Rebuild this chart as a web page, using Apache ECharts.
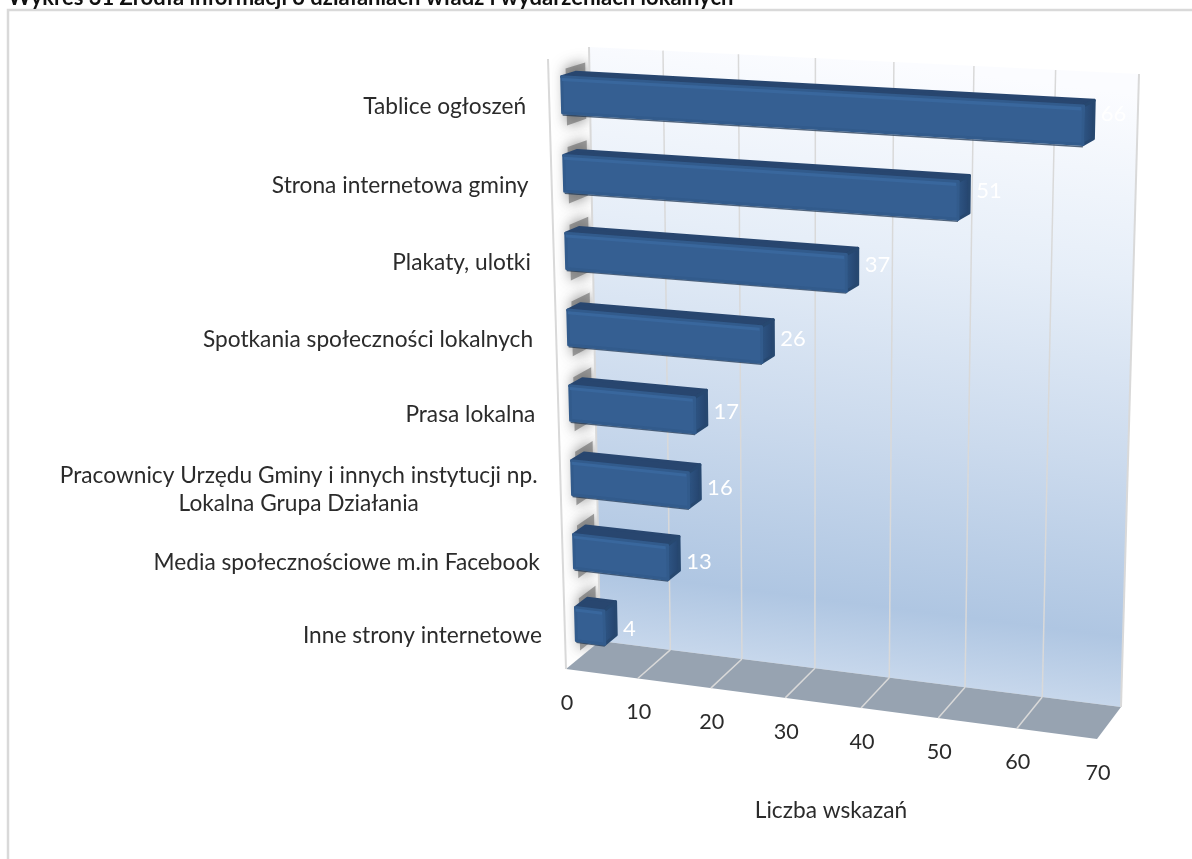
<!DOCTYPE html>
<html><head><meta charset="utf-8">
<script src="https://cdn.jsdelivr.net/npm/echarts@6/dist/echarts.min.js"></script>
<style>html,body{margin:0;padding:0;background:#fff;overflow:hidden}#c{width:1192px;height:859px}canvas{filter:blur(.4px)}</style>
</head><body><div id="c"></div>
<script>
const chartTitle = 'Wykres 31 Źródła informacji o działaniach władz i wydarzeniach lokalnych';
const categories = ['Tablice ogłoszeń','Strona internetowa gminy','Plakaty, ulotki','Spotkania społeczności lokalnych','Prasa lokalna','Pracownicy Urzędu Gminy i innych instytucji np.\nLokalna Grupa Działania','Media społecznościowe m.in Facebook','Inne strony internetowe'];
const values = [66,51,37,26,17,16,13,4];
const valueTicks = [0,10,20,30,40,50,60,70];
const axisName = 'Liczba wskazań';

const FONT = 'Lato, "Noto Sans", sans-serif';
const TEXT = '#2b2b2b', FS = 22.7;
function quadMap(q){
  const [x0,y0]=q[0],[x1,y1]=q[1],[x2,y2]=q[2],[x3,y3]=q[3];
  const dx1=x1-x2,dx2=x3-x2,sx=x0-x1+x2-x3,dy1=y1-y2,dy2=y3-y2,sy=y0-y1+y2-y3;
  const den=dx1*dy2-dx2*dy1,g=(sx*dy2-dx2*sy)/den,h=(dx1*sy-sx*dy1)/den;
  const a=x1-x0+g*x1,b=x3-x0+h*x3,d=y1-y0+g*y1,e=y3-y0+h*y3;
  return (u,t)=>{const w=g*u+h*t+1;return [(a*u+b*t+x0)/w,(d*u+e*t+y0)/w];};
}
const backPlane = quadMap([[589,47],[1139,74],[1121,707],[600,641]]);
const frontPlane = quadMap([[548,59],[1108,90],[1097,739],[566,669]]);
function proj(u,t,z){const b=backPlane(u,t),f=frontPlane(u,t);return [b[0]+(f[0]-b[0])*z,b[1]+(f[1]-b[1])*z];}
const Z_BACK=.34,Z_FRONT=.68,BAR_RATIO=.46;

function norm(params,api,v,i){
  const c=api.coord([v,i]),s=params.coordSys;
  return {u:(c[0]-s.x)/s.width,t:(c[1]-s.y)/s.height,band:api.size([0,1])[1]/s.height};
}
function poly(points,style,extra){return Object.assign({type:'polygon',shape:{points},style},extra||{});}
function line(a,b,color,w){return {type:'line',shape:{x1:a[0],y1:a[1],x2:b[0],y2:b[1]},style:{stroke:color,lineWidth:w}};}
function text(x,y,str,align,color,size){return {type:'text',x,y,style:{text:str,textAlign:align,textVerticalAlign:'middle',font:(size||FS)+'px '+FONT,fill:color||TEXT}};}
const meas=document.createElement('canvas').getContext('2d');

function renderWall(params,api){
  return {type:'group',children:[
    poly([proj(0,0,0),proj(1,0,0),proj(1,1,0),proj(0,1,0)],{fill:new echarts.graphic.LinearGradient(864,60,787,669,[
      {offset:0,color:'#fbfcff'},{offset:.3,color:'#e6eef8'},{offset:.6,color:'#cbdaed'},{offset:.88,color:'#afc6e2'},{offset:1,color:'#c8d8ec'}],true)}),
    poly([proj(0,1,0),proj(1,1,0),proj(1,1,1),proj(0,1,1)],{fill:'#97a3b1'}),
    line(proj(0,0,1),proj(0,1,1),'#d9d9d9',2)
  ]};
}
function renderGrid(params,api){
  const p=norm(params,api,api.value(0),0),u=p.u,k=[];
  k.push(line(proj(u,0,0),proj(u,1,0),'#d9d9d9',u===0||u===1?2:1.5));
  if(u>0&&u<1)k.push(line(proj(u,1,0),proj(u,1,1),'#d9d9d9',1.5));
  const f=proj(u,1,1);
  k.push(text(f[0]+1,f[1]+34,String(api.value(0)),'center','#2b2b2b',21.6));
  return {type:'group',children:k};
}
function renderShadow(params,api){
  const p=norm(params,api,0,api.value(1)),h=p.band*BAR_RATIO/2,t0=p.t-h-.011,t1=p.t+h+.022;
  return poly([proj(0,t0,.1),proj(0,t0,.58),proj(0,t1,.58),proj(0,t1,.1)],
    {fill:'rgba(105,105,105,.62)',shadowBlur:14,shadowColor:'rgba(60,60,60,1)'});
}
function renderBar(params,api){
  const v=api.value(0),p=norm(params,api,v,api.value(1)),u=p.u,h=p.band*BAR_RATIO/2,t0=p.t-h,t1=p.t+h;
  const r=s=>({stroke:s,lineWidth:3,lineJoin:'round'});
  const end=Math.max(0,u-.004);
  return {type:'group',children:[
    line(proj(0,t1+.003,Z_FRONT),proj(u,t1+.003,Z_FRONT),'rgba(29,53,83,.75)',1.5),
    poly([proj(0,t0,Z_BACK),proj(u,t0,Z_BACK),proj(u,t0,Z_FRONT),proj(0,t0,Z_FRONT)],Object.assign({fill:'#28466f'},r('#28466f'))),
    poly([proj(u,t0,Z_FRONT),proj(u,t0,Z_BACK),proj(u,t1,Z_BACK),proj(u,t1,Z_FRONT)],
      Object.assign({fill:new echarts.graphic.LinearGradient(0,0,1,0,[{offset:0,color:'#2f5787'},{offset:1,color:'#24426b'}])},r('#274870'))),
    poly([proj(0,t0,Z_FRONT),proj(u,t0,Z_FRONT),proj(u,t1,Z_FRONT),proj(0,t1,Z_FRONT)],Object.assign({fill:'#355f92'},r('#325b8c'))),
    poly([proj(0,t0+.002,Z_FRONT),proj(end,t0+.002,Z_FRONT),proj(end,t0+.007,Z_FRONT),proj(0,t0+.007,Z_FRONT)],{fill:'#39679d'})
  ]};
}
function renderValueLabel(params,api){
  const v=api.value(0),p=norm(params,api,v,api.value(1)),a=proj(p.u,p.t,Z_BACK);
  return text(a[0]+7,a[1]-7.2+19.4*p.t,String(v),'left','#ffffff',22);
}
function renderCat(params,api){
  const i=api.value(1),p=norm(params,api,0,i),a=proj(0,p.t,1),R=a[0]-23,y=a[1]+8-5.5*p.t;
  const lines=categories[i].split('\n');
  if(lines.length===1)return text(R,y,lines[0],'right');
  meas.font=FS+'px '+FONT;
  const w=meas.measureText(lines[0]).width;
  return {type:'group',children:[text(R,y-14,lines[0],'right'),text(R-w/2,y+14,lines[1],'center')]};
}
const barData=values.map((v,i)=>[v,categories[i]]);
const chart=echarts.init(document.getElementById('c'),null,{renderer:'canvas'});
const custom=(name,z,data,renderItem,enc)=>({name,type:'custom',coordinateSystem:'cartesian2d',z,silent:true,clip:false,animation:false,data,renderItem,encode:enc||{x:0,y:1}});
chart.setOption({
  animation:false,
  backgroundColor:'#fff',
  title:{text:chartTitle,left:8,top:-13,padding:0,textStyle:{fontFamily:FONT,fontWeight:'bold',fontSize:22,color:'#111'}},
  grid:{left:590,top:50,width:530,height:620},
  xAxis:{type:'value',min:0,max:70,interval:10,show:false},
  yAxis:{type:'category',inverse:true,data:categories,show:false},
  graphic:[
    {type:'polyline',shape:{points:[[8,870],[8,10],[1200,10]]},style:{stroke:'#d9d9d9',fill:null,lineWidth:2.5},z:0},
    {type:'text',x:831,y:811,style:{text:axisName,textAlign:'center',textVerticalAlign:'middle',font:FS+'px '+FONT,fill:TEXT}}
  ],
  series:[
    custom('leftWallShadow',1,barData,renderShadow),
    custom('wall',2,[[0,categories[0]]],renderWall),
    custom('grid',3,valueTicks.map(v=>[v,categories[0]]),renderGrid),
    custom('values',4,barData,renderBar),
    custom('valueLabels',5,barData,renderValueLabel),
    custom('categoryLabels',5,barData,renderCat)
  ]
});
</script></body></html>
